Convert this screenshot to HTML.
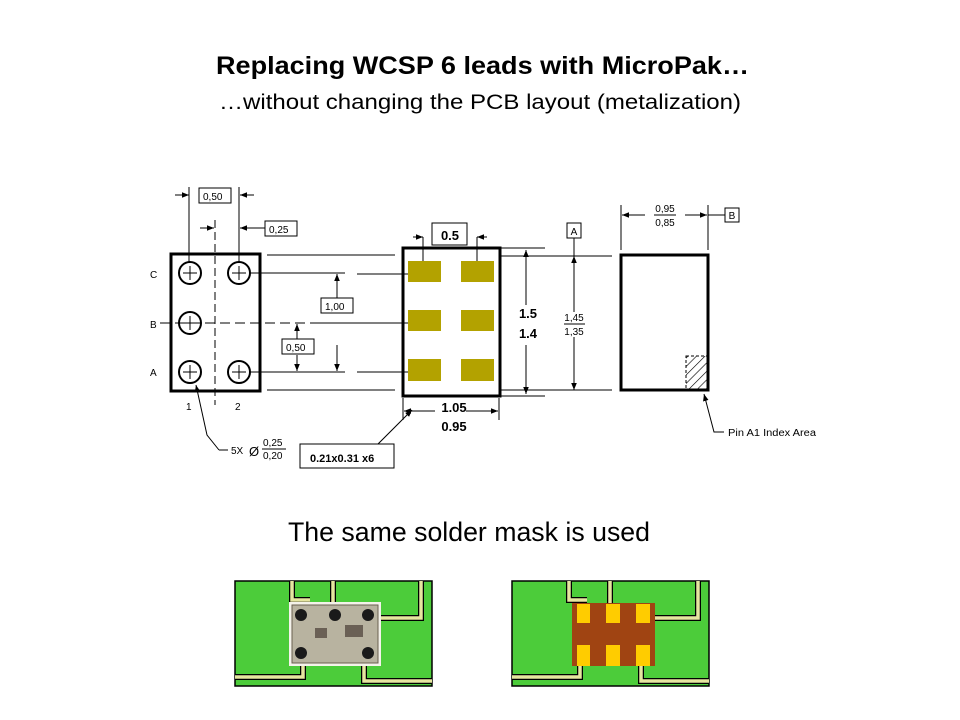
<!DOCTYPE html>
<html><head><meta charset="utf-8"><style>
body{margin:0;background:#fff;}
svg{display:block}
text{font-family:"Liberation Sans",sans-serif;}
</style></head><body>
<svg width="960" height="720" viewBox="0 0 960 720" xmlns="http://www.w3.org/2000/svg">
<defs>
<marker id="ar" viewBox="0 0 10 10" refX="10" refY="5" markerWidth="7" markerHeight="7" orient="auto-start-reverse"><path d="M0,1 L10,5 L0,9 z" fill="#000"/></marker>
<pattern id="hatch" width="6" height="6" patternUnits="userSpaceOnUse" patternTransform="rotate(45)"><line x1="0" y1="0" x2="0" y2="6" stroke="#000" stroke-width="1.2"/></pattern>
</defs>
<text x="216" y="74" font-size="25" font-weight="bold" textLength="533" lengthAdjust="spacingAndGlyphs">Replacing WCSP 6 leads with MicroPak…</text>
<text x="219" y="109" font-size="21" textLength="522" lengthAdjust="spacingAndGlyphs">…without changing the PCB layout (metalization)</text>

<!-- left package -->
<g stroke="#000" fill="none">
<rect x="171" y="254" width="89" height="137" stroke-width="3"/>
<line x1="215" y1="220" x2="215" y2="405" stroke-dasharray="8,4"/>
<line x1="160" y1="323" x2="315" y2="323" stroke-dasharray="10,5"/>
<g stroke-width="2">
<circle cx="190" cy="273" r="11"/><circle cx="239" cy="273" r="11"/>
<circle cx="190" cy="323" r="11"/>
<circle cx="190" cy="372" r="11"/><circle cx="239" cy="372" r="11"/>
</g>
<g stroke-width="1">
<path d="M183,273h14M190,266v14M232,273h14M239,266v14M183,323h14M190,316v14M183,372h14M190,365v14M232,372h14M239,365v14"/>
<line x1="189" y1="187" x2="189" y2="262"/><line x1="239" y1="187" x2="239" y2="262"/>
<line x1="175" y1="195" x2="189" y2="195" marker-end="url(#ar)"/>
<line x1="254" y1="195" x2="240" y2="195" marker-end="url(#ar)"/>
<line x1="200" y1="228" x2="214" y2="228" marker-end="url(#ar)"/>
<line x1="265" y1="228" x2="240" y2="228" marker-end="url(#ar)"/>
<line x1="250" y1="273" x2="345" y2="273"/>
<line x1="250" y1="372" x2="345" y2="372"/>
<line x1="267" y1="255" x2="395" y2="255"/>
<line x1="267" y1="390" x2="395" y2="390"/>
<line x1="357" y1="274" x2="437" y2="274"/>
<line x1="315" y1="323" x2="425" y2="323"/>
<line x1="357" y1="372" x2="430" y2="372"/>
<line x1="337" y1="300" x2="337" y2="274" marker-end="url(#ar)"/>
<line x1="337" y1="345" x2="337" y2="371" marker-end="url(#ar)"/>
<line x1="297" y1="340" x2="297" y2="324" marker-end="url(#ar)"/>
<line x1="297" y1="355" x2="297" y2="371" marker-end="url(#ar)"/>
<polyline points="219,450 207,435 196,385" marker-end="url(#ar)"/>
<line x1="219" y1="450" x2="228" y2="450"/>
<rect x="199" y="188" width="32" height="15" fill="#fff"/>
<rect x="265" y="221" width="32" height="15" fill="#fff"/>
<rect x="321" y="298" width="32" height="15" fill="#fff"/>
<rect x="282" y="339" width="32" height="15" fill="#fff"/>
</g>
</g>
<g font-size="10">
<text x="203" y="200">0,50</text><text x="269" y="233">0,25</text>
<text x="325" y="310">1,00</text><text x="286" y="351">0,50</text>
<text x="150" y="278">C</text><text x="150" y="328">B</text><text x="150" y="376">A</text>
<text x="186" y="410">1</text><text x="235" y="410">2</text>
<text x="231" y="454">5X</text><text x="249" y="456" font-size="13">Ø</text>
<text x="263" y="446">0,25</text><line x1="262" y1="449" x2="286" y2="449" stroke="#000"/><text x="263" y="459">0,20</text>
</g>

<!-- middle package -->
<g fill="#b3a200">
<rect x="408" y="261" width="33" height="21"/><rect x="461" y="261" width="33" height="21"/>
<rect x="408" y="310" width="33" height="21"/><rect x="461" y="310" width="33" height="21"/>
<rect x="408" y="359" width="33" height="22"/><rect x="461" y="359" width="33" height="22"/>
</g>
<g stroke="#000" fill="none">
<rect x="403" y="248" width="97" height="148" stroke-width="3"/>
<rect x="432" y="223" width="35" height="22" fill="#fff"/>
<line x1="423" y1="237" x2="423" y2="261" stroke-width="1"/>
<line x1="477" y1="237" x2="477" y2="261" stroke-width="1"/>
<line x1="413" y1="237" x2="423" y2="237" marker-end="url(#ar)"/>
<line x1="487" y1="237" x2="477" y2="237" marker-end="url(#ar)"/>
<line x1="403" y1="398" x2="403" y2="420"/><line x1="499" y1="398" x2="499" y2="420"/>
<line x1="435" y1="411" x2="404" y2="411" marker-end="url(#ar)"/>
<line x1="466" y1="411" x2="498" y2="411" marker-end="url(#ar)"/>
<line x1="500" y1="248" x2="545" y2="248"/><line x1="500" y1="256" x2="612" y2="256"/>
<line x1="500" y1="390" x2="612" y2="390"/><line x1="500" y1="396" x2="545" y2="396"/>
<line x1="526" y1="305" x2="526" y2="250" marker-end="url(#ar)"/>
<line x1="526" y1="345" x2="526" y2="394" marker-end="url(#ar)"/>
<line x1="574" y1="312" x2="574" y2="256" marker-end="url(#ar)"/>
<line x1="574" y1="337" x2="574" y2="390" marker-end="url(#ar)"/>
<line x1="574" y1="238" x2="574" y2="256"/>
<rect x="567" y="223" width="14" height="15" fill="#fff"/>
<line x1="362" y1="460" x2="412" y2="410" marker-end="url(#ar)"/>
<rect x="300" y="444" width="94" height="24" fill="#fff"/>
</g>
<g font-weight="bold" font-size="13">
<text x="450" y="240" text-anchor="middle">0.5</text>
<text x="454" y="412" text-anchor="middle">1.05</text>
<text x="454" y="431" text-anchor="middle">0.95</text>
<text x="528" y="318" text-anchor="middle">1.5</text>
<text x="528" y="338" text-anchor="middle">1.4</text>
<text x="310" y="462" font-size="11">0.21x0.31 x6</text>
</g>
<g font-size="10">
<text x="574" y="235" text-anchor="middle">A</text>
<text x="574" y="321" text-anchor="middle">1,45</text><line x1="564" y1="324" x2="585" y2="324" stroke="#000"/>
<text x="574" y="335" text-anchor="middle">1,35</text>
</g>

<!-- right package -->
<rect x="686" y="356" width="22" height="34" fill="url(#hatch)" stroke="#000" stroke-dasharray="3,2"/>
<g stroke="#000" fill="none">
<rect x="621" y="255" width="87" height="135" stroke-width="3"/>
<line x1="621" y1="205" x2="621" y2="250"/><line x1="708" y1="205" x2="708" y2="250"/>
<line x1="645" y1="215" x2="622" y2="215" marker-end="url(#ar)"/>
<line x1="685" y1="215" x2="707" y2="215" marker-end="url(#ar)"/>
<line x1="708" y1="215" x2="725" y2="215"/>
<rect x="725" y="208" width="14" height="14" fill="#fff"/>
<polyline points="724,432 714,432 704,394" marker-end="url(#ar)"/>
</g>
<g font-size="10">
<text x="665" y="212" text-anchor="middle">0,95</text><line x1="654" y1="215" x2="676" y2="215" stroke="#000"/>
<text x="665" y="226" text-anchor="middle">0,85</text>
<text x="732" y="219" text-anchor="middle">B</text>
<text x="728" y="436" textLength="88" lengthAdjust="spacingAndGlyphs">Pin A1 Index Area</text>
</g>

<text x="288" y="541" font-size="27" textLength="362" lengthAdjust="spacingAndGlyphs">The same solder mask is used</text>

<!-- PCBs -->
<g id="pcb">
<rect x="235" y="581" width="197" height="105" fill="#4ccc3a" stroke="#000" stroke-width="1.5"/>
<g fill="none" stroke-linejoin="miter">
<g stroke="#000" stroke-width="6">
<polyline points="292,581 292,600 310,600"/><polyline points="333,581 333,610"/>
<polyline points="421,581 421,618 370,618"/>
<polyline points="235,677 303,677 303,660"/><polyline points="364,660 364,681 432,681"/>
</g>
<g stroke="#e6e6a0" stroke-width="3.5">
<polyline points="292,581 292,600 310,600"/><polyline points="333,581 333,610"/>
<polyline points="421,581 421,618 370,618"/>
<polyline points="235,677 303,677 303,660"/><polyline points="364,660 364,681 432,681"/>
</g>
</g>
</g>
<rect x="289" y="602" width="92" height="64" fill="#f4f2ea"/>
<rect x="292" y="605" width="86" height="58" fill="#b8b3a0" stroke="#6a6050"/>
<g fill="#1a1a1a"><circle cx="301" cy="615" r="6"/><circle cx="335" cy="615" r="6"/><circle cx="368" cy="615" r="6"/><circle cx="301" cy="653" r="6"/><circle cx="368" cy="653" r="6"/></g>
<rect x="315" y="628" width="12" height="10" fill="#6a6055"/><rect x="345" y="625" width="18" height="12" fill="#6a6055"/>

<use href="#pcb" x="277" y="0"/>
<rect x="572" y="603" width="83" height="63" fill="#a04412"/>
<g fill="#ffcc00">
<rect x="577" y="604" width="13" height="19"/><rect x="606" y="604" width="14" height="19"/><rect x="636" y="604" width="14" height="19"/>
<rect x="577" y="645" width="13" height="21"/><rect x="606" y="645" width="14" height="21"/><rect x="636" y="645" width="14" height="21"/>
</g>
</svg>
</body></html>
